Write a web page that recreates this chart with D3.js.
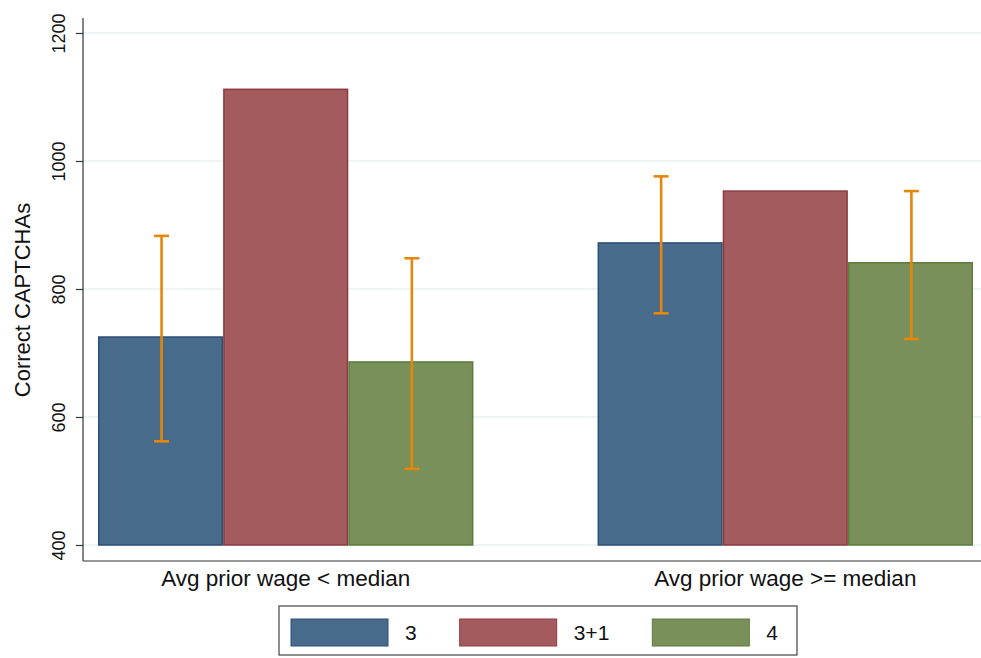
<!DOCTYPE html>
<html>
<head>
<meta charset="utf-8">
<script src="https://cdn.jsdelivr.net/npm/d3@7"></script>
<style>
  html, body { margin: 0; padding: 0; background: #fff; }
  svg { display: block; font-family: "Liberation Sans", Arial, Helvetica, sans-serif; }
</style>
</head>
<body>
<svg id="chart" width="981" height="658"></svg>
<script>
// Groups along the x axis
const groups = ["Avg prior wage < median", "Avg prior wage >= median"];
// Treatment series
const series = ["3", "3+1", "4"];
// Mean correct CAPTCHAs per group, one array per series
const values3 = [725, 872];
const values31 = [1112, 953];
const values4 = [686, 841];
// Confidence interval bounds (no interval is drawn for 3+1)
const ciLow3 = [562, 762];
const ciHigh3 = [883, 976];
const ciLow4 = [519, 722];
const ciHigh4 = [848, 953];
// Y axis ticks
const yTicks = [400, 600, 800, 1000, 1200];

const fills = { "3": "#486a8b", "3+1": "#a45b5e", "4": "#79905a" };
const strokes = { "3": "#2b5077", "3+1": "#8c3a40", "4": "#5d7d3c" };
const errColor = "#e5870a";

const svg = d3.select("#chart");

// Plot area
const plot = { left: 83, right: 981, top: 18, bottom: 561 };

const y = d3.scaleLinear().domain([400, 1200]).range([545, 33]);

const x0 = d3.scaleBand().domain(groups).range([98, 973]).paddingInner(0.2485).paddingOuter(0);
const x1 = d3.scaleBand().domain(series).range([0, x0.bandwidth()]).padding(0);

// Gridlines
svg.append("g")
  .selectAll("line")
  .data(yTicks)
  .join("line")
  .attr("x1", plot.left)
  .attr("x2", plot.right)
  .attr("y1", d => y(d))
  .attr("y2", d => y(d))
  .attr("stroke", "#e9f1f3")
  .attr("stroke-width", 1.5);

// Bars
const rows = groups.map((g, i) => ({
  group: g,
  bars: [
    { key: "3", v: values3[i], lo: ciLow3[i], hi: ciHigh3[i] },
    { key: "3+1", v: values31[i], lo: null, hi: null },
    { key: "4", v: values4[i], lo: ciLow4[i], hi: ciHigh4[i] }
  ]
}));

const gGroups = svg.append("g")
  .selectAll("g")
  .data(rows)
  .join("g")
  .attr("transform", d => `translate(${x0(d.group)},0)`);

gGroups.selectAll("rect")
  .data(d => d.bars)
  .join("rect")
  .attr("x", d => x1(d.key) + 0.75)
  .attr("width", x1.bandwidth() - 1.5)
  .attr("y", d => y(d.v))
  .attr("height", d => y(400) - y(d.v))
  .attr("fill", d => fills[d.key])
  .attr("stroke", d => strokes[d.key])
  .attr("stroke-width", 1.5);

// Error bars
const eb = gGroups.selectAll("g.err")
  .data(d => d.bars.filter(b => b.lo !== null))
  .join("g")
  .attr("class", "err")
  .attr("stroke", errColor)
  .attr("stroke-width", 2.6);

const cx = d => x1(d.key) + x1.bandwidth() / 2 + 1;
eb.append("line")
  .attr("x1", cx).attr("x2", cx)
  .attr("y1", d => y(d.hi)).attr("y2", d => y(d.lo));
eb.append("line")
  .attr("x1", d => cx(d) - 7.5).attr("x2", d => cx(d) + 7.5)
  .attr("y1", d => y(d.hi)).attr("y2", d => y(d.hi));
eb.append("line")
  .attr("x1", d => cx(d) - 7.5).attr("x2", d => cx(d) + 7.5)
  .attr("y1", d => y(d.lo)).attr("y2", d => y(d.lo));

// Y axis
const yAxis = svg.append("g")
  .attr("transform", `translate(${plot.left},0)`)
  .call(d3.axisLeft(y).tickValues(yTicks).tickFormat(d3.format("d")).tickSize(7).tickPadding(10).tickSizeOuter(0));
yAxis.select(".domain").remove();
yAxis.append("line")
  .attr("x1", 0).attr("x2", 0)
  .attr("y1", plot.top).attr("y2", plot.bottom)
  .attr("stroke", "#333").attr("stroke-width", 1.2);
yAxis.selectAll(".tick line").attr("stroke", "#333").attr("stroke-width", 1.2);
yAxis.selectAll(".tick text")
  .attr("fill", "#111")
  .style("font-size", "18px")
  .attr("transform", "rotate(-90)")
  .attr("x", 0)
  .attr("y", -18)
  .attr("dy", 0)
  .attr("text-anchor", "middle");

// Y title
svg.append("text")
  .attr("transform", "translate(30,300) rotate(-90)")
  .attr("text-anchor", "middle")
  .attr("fill", "#111")
  .style("font-size", "22px")
  .text("Correct CAPTCHAs");

// X axis
svg.append("line")
  .attr("x1", plot.left).attr("x2", plot.right)
  .attr("y1", plot.bottom).attr("y2", plot.bottom)
  .attr("stroke", "#333").attr("stroke-width", 1.2);

svg.append("g")
  .selectAll("text")
  .data(groups)
  .join("text")
  .attr("x", d => x0(d) + x0.bandwidth() / 2)
  .attr("y", 586)
  .attr("text-anchor", "middle")
  .attr("fill", "#111")
  .style("font-size", "22.5px")
  .text(d => d);

// Legend: items laid out left to right, each swatch followed by its label
const legend = svg.append("g");
legend.append("rect")
  .attr("x", 279).attr("y", 606)
  .attr("width", 518).attr("height", 49)
  .attr("fill", "#fff")
  .attr("stroke", "#444")
  .attr("stroke-width", 1.2);

const swatchW = 97, swatchH = 27, labelGap = 17, itemGap = 43;
let cursor = 291;
series.forEach(s => {
  const item = legend.append("g").attr("transform", `translate(${cursor},619)`);
  item.append("rect")
    .attr("width", swatchW).attr("height", swatchH)
    .attr("fill", fills[s])
    .attr("stroke", strokes[s])
    .attr("stroke-width", 1);
  const t = item.append("text")
    .attr("x", swatchW + labelGap).attr("y", 21)
    .attr("fill", "#111")
    .style("font-size", "21px")
    .text(s);
  cursor += swatchW + labelGap + t.node().getComputedTextLength() + itemGap;
});
</script>
</body>
</html>
